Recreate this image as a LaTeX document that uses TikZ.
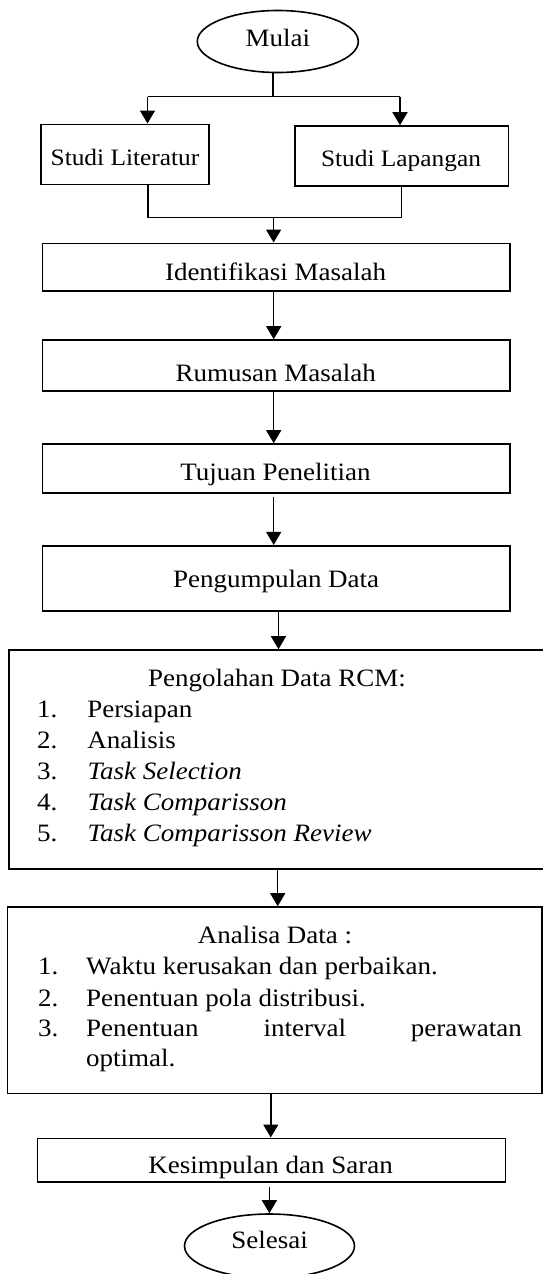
\documentclass[tikz,border=0pt]{standalone}
\usepackage{fontspec}
\setmainfont{Liberation Serif}[FakeStretch=1.08]
\usetikzlibrary{arrows.meta,shapes.geometric}
\newcommand\bigtxt{\fontsize{25}{30}\selectfont}
\newcommand\smalltxt{\fontsize{23.5}{28}\selectfont}
\begin{document}
\begin{tikzpicture}[x=1pt,y=-1pt,
  box/.style={draw, line width=1.6pt, rectangle, inner sep=0pt},
  oval/.style={draw, line width=1.6pt, ellipse, inner sep=0pt},
  txt/.style={inner sep=0pt, anchor=base, font=\bigtxt},
  stxt/.style={inner sep=0pt, anchor=base, font=\smalltxt},
  item/.style={inner sep=0pt, anchor=base west, font=\bigtxt},
  conn/.style={line width=1.5pt},
  arr/.style={line width=1.5pt, -{Triangle[length=13pt,width=15pt]}}]
\useasboundingbox (0,0) rectangle (543,1274);
\clip (0,0) rectangle (543,1274);
\fill[white] (0,0) rectangle (543,1274);

% shapes
\node[oval, minimum width=161pt, minimum height=62pt] (mulai) at (277.8,41.5) {};
\node[box, minimum width=168.3pt, minimum height=60pt] (lit) at (124.85,154.3) {};
\node[box, minimum width=213.6pt, minimum height=59.7pt] (lap) at (401.8,155.85) {};
\node[box, minimum width=467.5pt, minimum height=47.7pt] (idm) at (276.05,267.15) {};
\node[box, minimum width=467.5pt, minimum height=50.7pt] (rum) at (276.05,365.35) {};
\node[box, minimum width=467.5pt, minimum height=48.7pt] (tuj) at (276.05,468.35) {};
\node[box, minimum width=467.5pt, minimum height=65.3pt] (pgd) at (276.05,578.35) {};
\node[box, minimum width=541.2pt, minimum height=219pt] (pdr) at (279.4,759.5) {};
\node[box, minimum width=534.2pt, minimum height=186.3pt] (ana) at (274.6,1000.15) {};
\node[box, minimum width=468pt, minimum height=43.4pt] (kes) at (271.4,1160) {};
\node[oval, minimum width=170pt, minimum height=64pt] (sel) at (269.5,1246) {};

% texts
\node[txt] (tmulai) at (277.9,46.7) {Mulai};
\node[stxt] (tlit) at (125,165.7) {Studi Literatur};
\node[stxt] (tlap) at (401,166.7) {Studi Lapangan};
\node[txt] (tidm) at (275.6,280) {Identifikasi Masalah};
\node[txt] (trum) at (275.8,381.7) {Rumusan Masalah};
\node[txt] (ttuj) at (275.4,480) {Tujuan Penelitian};
\node[txt] (tpgd) at (276.1,587.3) {Pengumpulan Data};
\node[txt] (tpdr) at (277,686) {Pengolahan Data RCM:};
\node[item] (p1) at (37,717) {\makebox[50.3pt][l]{1.}Persiapan};
\node[item] (p2) at (37,748) {\makebox[50.3pt][l]{2.}Analisis};
\node[item] (p3) at (37,779) {\makebox[50.3pt][l]{3.}\textit{Task Selection}};
\node[item] (p4) at (37,810) {\makebox[50.3pt][l]{4.}\textit{Task Comparisson}};
\node[item] (p5) at (37,841) {\makebox[50.3pt][l]{5.}\textit{Task Comparisson Review}};
\node[txt] (tana) at (275,943) {Analisa Data :};
\node[item] (a1) at (38,974) {\makebox[48pt][l]{1.}Waktu kerusakan dan perbaikan.};
\node[item] (a2) at (38,1006) {\makebox[48pt][l]{2.}Penentuan pola distribusi.};
\node[item] (a3) at (38,1036.7) {\makebox[48pt][l]{3.}\hbox to 435.7pt{Penentuan\hfill interval\hfill perawatan}};
\node[item] (a4) at (86,1066.7) {optimal.};
\node[txt] (tkes) at (270.6,1173.3) {Kesimpulan dan Saran};
\node[txt] (tsel) at (269.7,1248) {Selesai};

% connectors
\coordinate (s1) at (272.8,96.7);
\coordinate (s1l) at (147.5,96.7);
\coordinate (s1r) at (400,96.7);
\draw[conn] (mulai.south -| s1) -- (s1);
\draw[conn] (s1l) -- (s1r);
\draw[arr] (s1l) -- (s1l |- lit.north);
\draw[arr] (s1r) -- (s1r |- lap.north);
\coordinate (j1l) at (147.8,217.3);
\coordinate (j1r) at (401.3,217.3);
\coordinate (j1m) at (273.6,217.3);
\draw[conn] (lit.south -| j1l) -- (j1l) -- (j1r) -- (lap.south -| j1r);
\draw[arr] (j1m) -- (j1m |- idm.north);
\coordinate (xa) at (273.7,0);
\draw[arr] (idm.south -| xa) -- (rum.north -| xa);
\draw[arr] (rum.south -| xa) -- (tuj.north -| xa);
\draw[arr, shorten <=3pt] (tuj.south -| xa) -- (pgd.north -| xa);
\coordinate (xb) at (278.5,0);
\draw[arr] (pgd.south -| xb) -- (pdr.north -| xb);
\coordinate (xc) at (277.7,0);
\draw[arr] (pdr.south -| xc) -- (ana.north -| xc);
\coordinate (xd) at (270.8,0);
\draw[arr] (ana.south -| xd) -- (kes.north -| xd);
\coordinate (xe) at (269.4,0);
\draw[arr, shorten <=4pt] (kes.south -| xe) -- (sel.north -| xe);
\end{tikzpicture}
\end{document}
